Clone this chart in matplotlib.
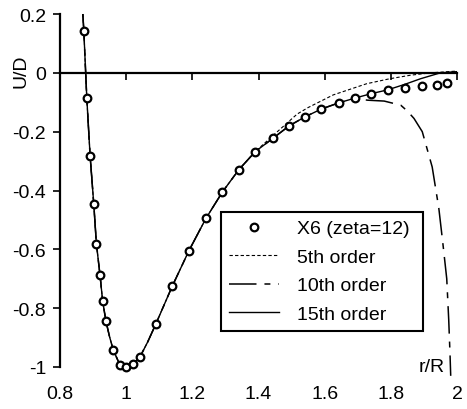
import numpy as np
import matplotlib
matplotlib.use('Agg')
import matplotlib.pyplot as plt

# points X6 (zeta=12)
r_pts = [0.872, 0.881, 0.891, 0.902, 0.910, 0.921, 0.929, 0.939, 0.961, 0.981,
         1.0, 1.02, 1.042, 1.09, 1.139, 1.19, 1.241, 1.291, 1.34, 1.39,
         1.443, 1.493, 1.54, 1.59, 1.643, 1.691, 1.74, 1.79, 1.842, 1.893,
         1.941, 1.97]
u_pts = [0.143, -0.086, -0.282, -0.445, -0.581, -0.688, -0.777, -0.845, -0.942, -0.993,
         -1.0, -0.991, -0.965, -0.853, -0.726, -0.604, -0.495, -0.405, -0.33, -0.268,
         -0.223, -0.18, -0.15, -0.123, -0.102, -0.086, -0.072, -0.060, -0.052, -0.045,
         -0.041, -0.035]

# common part of the fitted curves (left side)
r_core = [0.869, 0.872, 0.881, 0.891, 0.902, 0.910, 0.921, 0.929, 0.939, 0.950, 0.961,
          0.981, 1.0, 1.02, 1.042, 1.065, 1.09, 1.139, 1.19, 1.241, 1.291, 1.34, 1.39]
u_core = [0.2, 0.143, -0.086, -0.282, -0.445, -0.581, -0.688, -0.777, -0.845, -0.898, -0.942,
          -0.993, -1.0, -0.991, -0.965, -0.915, -0.853, -0.726, -0.604, -0.495, -0.405, -0.33, -0.268]

# 15th order tail
r_15 = [1.443, 1.493, 1.54, 1.59, 1.643, 1.691, 1.74, 1.79, 1.84, 1.89, 1.95, 2.0]
u_15 = [-0.223, -0.18, -0.15, -0.123, -0.102, -0.086, -0.071, -0.058, -0.04, -0.02, 0.0, 0.004]

# 5th order tail
r_5 = [1.45, 1.517, 1.55, 1.626, 1.727, 1.797, 1.86, 1.92, 2.0]
u_5 = [-0.207, -0.14, -0.118, -0.075, -0.037, -0.02, -0.008, 0.0, 0.006]

# 10th order tail
r_10 = [1.443, 1.493, 1.54, 1.59, 1.643, 1.691, 1.73, 1.78, 1.83, 1.85, 1.87, 1.895,
        1.925, 1.945, 1.957, 1.969, 1.975, 1.979, 1.981]
u_10 = [-0.223, -0.18, -0.15, -0.123, -0.102, -0.087, -0.093, -0.096, -0.11, -0.13,
        -0.155, -0.2, -0.32, -0.46, -0.577, -0.7, -0.84, -0.96, -1.03]

plt.rcParams['font.family'] = ['Liberation Sans', 'DejaVu Sans']
plt.rcParams['font.size'] = 14
plt.rcParams['axes.unicode_minus'] = False

fig = plt.figure(figsize=(4.67, 4.10), dpi=100)
ax = fig.add_axes([60/467, 42/410, 397/467, 353/410])

ax.plot(r_pts, u_pts, 'o', ls='none', ms=5.5, mfc='white', mec='black', mew=1.6,
        label='X6 (zeta=12)', zorder=5, clip_on=False)
ax.plot(r_core + r_5, u_core + u_5, color='black', lw=0.8, dashes=(3, 2),
        label='5th order')
ax.plot(r_core + r_10, u_core + u_10, color='black', lw=1.1, dashes=(18, 5.2, 3.9, 5.2),
        label='10th order', clip_on=False)
ax.plot(r_core + r_15, u_core + u_15, color='black', lw=1.0, label='15th order')

ax.set_xlim(0.8, 2.0)
ax.set_ylim(-1.0, 0.2)
ax.set_xticks([0.8, 1.0, 1.2, 1.4, 1.6, 1.8, 2.0])
ax.set_yticks([0.2, 0, -0.2, -0.4, -0.6, -0.8, -1.0])
ax.xaxis.set_major_formatter(plt.FuncFormatter(lambda v, p: '%g' % round(v, 2)))
ax.yaxis.set_major_formatter(plt.FuncFormatter(lambda v, p: '%g' % round(v, 2)))

# x axis line crosses at U=0, labels stay at the bottom
ax.spines['right'].set_visible(False)
ax.spines['bottom'].set_visible(False)
ax.spines['top'].set_position(('data', 0))
ax.spines['top'].set_linewidth(1.6)
ax.spines['left'].set_linewidth(1.6)
ax.tick_params(axis='x', which='both', top=True, bottom=False, labeltop=False,
               labelbottom=True, direction='in', length=5, width=1.2, pad=13)
ax.tick_params(axis='y', direction='out', length=5, width=1.2, pad=5)

ax.text(-0.098, 0.841, 'U/D', rotation=90, ha='center', va='center',
        transform=ax.transAxes)
ax.text(0.97, 0.0, 'r/R', ha='right', va='center', transform=ax.transAxes)

leg = ax.legend(loc='lower left', bbox_to_anchor=(0.405, 0.103, 0.51, 0.334),
                mode='expand', borderaxespad=0,
                numpoints=1, fancybox=False, framealpha=1, edgecolor='black',
                handlelength=2.6, handletextpad=0.9, borderpad=0.4, labelspacing=0.56)
leg.get_frame().set_linewidth(1.5)

fig.savefig('out.png', dpi=100)
